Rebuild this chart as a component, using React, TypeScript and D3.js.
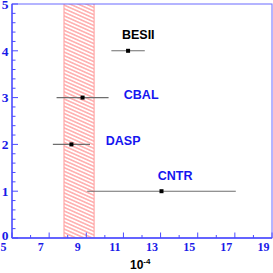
import * as d3 from 'd3';

const experiments = ['BESII', 'CBAL', 'DASP', 'CNTR'];
const rows = [4, 3, 2, 1];
const centers = [11.25, 8.8, 8.2, 13.05];
const lows = [10.35, 7.4, 7.2, 9.05];
const highs = [12.15, 10.2, 9.2, 17.05];
const labelX = [10.92, 11.02, 10.05, 12.85];
const labelY = [4.26, 2.98, 1.99, 1.24];
const labelColors = ['#000000', '#1515f0', '#1515f0', '#1515f0'];

const band = [7.8, 9.42];

const xMajor = [5, 7, 9, 11, 13, 15, 17, 19];
const xMinor = [6, 8, 10, 12, 14, 16, 18];
const yMajor = [0, 1, 2, 3, 4, 5];

const W = 273;
const H = 273;
const frame = { left: 12, top: 4, right: 272, bottom: 238 };

const App = () => {
  const x = d3.scaleLinear().domain([5, 19]).range([frame.left, frame.right]);
  const y = d3.scaleLinear().domain([0, 5]).range([frame.bottom, frame.top]);

  const yMinor = d3.range(0, 5.0001, 0.2).filter(v => Math.abs(v - Math.round(v)) > 0.01);
  const axisColor = '#4a4aff';
  const tickFont = "'Liberation Serif', 'DejaVu Serif', serif";
  const sans = "'Liberation Sans', Arial, sans-serif";

  return (
    <svg width={W} height={H} style={{ position: 'absolute', left: 0, top: 0, background: '#fff' }}>
      <defs>
        <pattern id="hatch" width="8" height="3.3" patternUnits="userSpaceOnUse" patternTransform="rotate(24)">
          <line x1="0" y1="1.65" x2="8" y2="1.65" stroke="#ff8080" strokeWidth="1" />
        </pattern>
      </defs>

      {/* hatched band */}
      <rect x={x(band[0])} y={y(5)} width={x(band[1]) - x(band[0])} height={y(0) - y(5)} fill="url(#hatch)" />
      <line x1={x(band[0])} x2={x(band[0])} y1={y(5)} y2={y(0)} stroke="#ffa8a8" strokeWidth={1.2} />
      <line x1={x(band[1])} x2={x(band[1])} y1={y(5)} y2={y(0)} stroke="#ffa8a8" strokeWidth={1.2} />

      {/* frame */}
      <rect x={frame.left} y={frame.top} width={frame.right - frame.left} height={frame.bottom - frame.top}
        fill="none" stroke="#6b6bff" strokeWidth={1} />
      <line x1={frame.left} x2={frame.left} y1={frame.top} y2={frame.bottom} stroke={axisColor} strokeWidth={1.3} />
      <line x1={frame.left} x2={frame.right} y1={frame.bottom} y2={frame.bottom} stroke={axisColor} strokeWidth={1.3} />

      {/* y ticks */}
      {yMajor.map(v => (
        <line key={'ym' + v} x1={frame.left} x2={frame.left + 6} y1={y(v)} y2={y(v)} stroke={axisColor} />
      ))}
      {yMinor.map(v => (
        <line key={'yn' + v} x1={frame.left} x2={frame.left + 3.5} y1={y(v)} y2={y(v)} stroke={axisColor} />
      ))}
      {yMajor.map(v => (
        <text key={'yl' + v} x={8.5} y={v === 0 ? y(v) - 3 : y(v)} dy="0.35em" textAnchor="end" fontFamily={tickFont}
          fontWeight="bold" fontSize={13.5} fill="#1a1ae8">{v}</text>
      ))}

      {/* x ticks */}
      {xMajor.map(v => (
        <line key={'xm' + v} x1={x(v)} x2={x(v)} y1={frame.bottom} y2={frame.bottom - 5.5} stroke={axisColor} />
      ))}
      {xMinor.map(v => (
        <line key={'xn' + v} x1={x(v)} x2={x(v)} y1={frame.bottom} y2={frame.bottom - 3} stroke={axisColor} />
      ))}
      {xMajor.map(v => (
        <text key={'xl' + v} x={x(v) - 8.5} y={251} textAnchor="middle" fontFamily={tickFont}
          fontWeight="bold" fontSize={12} fill="#1a1ae8">{v}</text>
      ))}

      {/* x title */}
      <text x={130} y={269} fontFamily={sans} fontWeight="bold" fontSize={12} fill="#000">
        10<tspan dy={-5} fontSize={8}>-4</tspan>
      </text>

      {/* measurements */}
      {experiments.map((name, i) => (
        <g key={name}>
          <line x1={x(lows[i])} x2={x(highs[i])} y1={y(rows[i])} y2={y(rows[i])} stroke="#6e6e6e" strokeWidth={1.1} />
          <rect x={x(centers[i]) - 2} y={y(rows[i]) - 2} width={4} height={4} fill="#000" />
          <text x={x(labelX[i])} y={y(labelY[i])} fontFamily={sans} fontWeight="bold" fontSize={12.5}
            fill={labelColors[i]}>{name}</text>
        </g>
      ))}
    </svg>
  );
};

export default App;
